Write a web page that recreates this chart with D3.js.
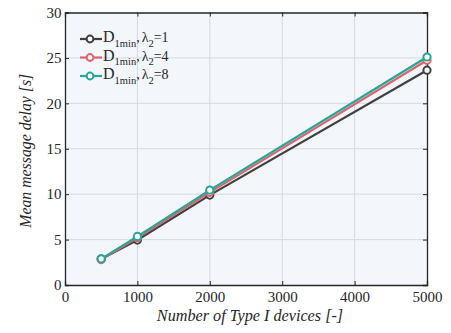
<!DOCTYPE html>
<html><head><meta charset="utf-8">
<script src="https://cdn.jsdelivr.net/npm/d3@7"></script>
<style>body{margin:0;background:#fff;} svg{display:block;}</style>
</head><body>
<svg id="c" width="451" height="333"></svg>
<script>
const xValues = [500, 1000, 2000, 5000];
const lambdas = ["1", "4", "8"];
const series1 = [2.85, 4.95, 9.9, 23.65];
const series4 = [2.8, 5.2, 10.2, 24.75];
const series8 = [2.88, 5.35, 10.45, 25.1];
const colors = ["#404040", "#e0636b", "#26a69a"];
const xTicks = [0, 1000, 2000, 3000, 4000, 5000];
const yTicks = [0, 5, 10, 15, 20, 25, 30];

const allSeries = [series1, series4, series8];
const svg = d3.select("#c");
const m = {l: 65, r: 427, t: 12.5, b: 285};
const x = d3.scaleLinear().domain([0, 5000]).range([m.l, m.r]);
const y = d3.scaleLinear().domain([0, 30]).range([m.b, m.t]);
const font = "'Liberation Serif', 'Times New Roman', serif";

svg.append("rect").attr("x", m.l).attr("y", m.t).attr("width", m.r - m.l).attr("height", m.b - m.t).attr("fill", "#f3f6fb");

// grid
svg.append("g").selectAll("line").data(xTicks.slice(1, -1)).join("line")
  .attr("x1", d => x(d)).attr("x2", d => x(d)).attr("y1", m.t).attr("y2", m.b)
  .attr("stroke", "#d6d9de").attr("stroke-width", 1);
svg.append("g").selectAll("line").data(yTicks.slice(1, -1)).join("line")
  .attr("y1", d => y(d)).attr("y2", d => y(d)).attr("x1", m.l).attr("x2", m.r)
  .attr("stroke", "#d6d9de").attr("stroke-width", 1);

// axes
const xAxis = d3.axisBottom(x).tickValues(xTicks).tickSize(-4).tickPadding(6.5).tickFormat(d3.format("d"));
const yAxis = d3.axisLeft(y).tickValues(yTicks).tickSize(-4).tickPadding(3.5);
const gx = svg.append("g").attr("transform", `translate(0,${m.b})`).call(xAxis);
const gy = svg.append("g").attr("transform", `translate(${m.l},0)`).call(yAxis);
const gx2 = svg.append("g").attr("transform", `translate(0,${m.t})`).call(d3.axisTop(x).tickValues(xTicks).tickSize(-4).tickFormat(""));
const gy2 = svg.append("g").attr("transform", `translate(${m.r},0)`).call(d3.axisRight(y).tickValues(yTicks).tickSize(-4).tickFormat(""));
[gx, gy, gx2, gy2].forEach(g => {
  g.select(".domain").attr("stroke", "#262626").attr("stroke-width", 1.3);
  g.selectAll(".tick line").attr("stroke", "#262626");
  g.selectAll("text").attr("font-family", font).attr("font-size", 15).attr("fill", "#262626");
});

// lines
const line = d3.line().x((d, i) => x(xValues[i])).y(d => y(d));
allSeries.forEach((s, k) => {
  svg.append("path").datum(s).attr("d", line).attr("fill", "none")
    .attr("stroke", colors[k]).attr("stroke-width", 2.2);
  svg.append("g").selectAll("circle").data(s).join("circle")
    .attr("cx", (d, i) => x(xValues[i])).attr("cy", d => y(d)).attr("r", 3.6)
    .attr("fill", "#fff").attr("stroke", colors[k]).attr("stroke-width", 2);
});

// legend
const lg = svg.append("g");
lambdas.forEach((lam, k) => {
  const yy = 39 + k * 18.5;
  lg.append("line").attr("x1", 80).attr("x2", 102).attr("y1", yy).attr("y2", yy)
    .attr("stroke", colors[k]).attr("stroke-width", 2.2);
  lg.append("circle").attr("cx", 90).attr("cy", yy).attr("r", 3.4)
    .attr("fill", "#fff").attr("stroke", colors[k]).attr("stroke-width", 2);
  const t = lg.append("text").attr("x", 103).attr("y", yy + 3).attr("font-family", font)
    .attr("font-size", 16).attr("fill", "#262626");
  t.append("tspan").text("D");
  t.append("tspan").attr("dy", 4.5).attr("font-size", 10.5).text("1min");
  t.append("tspan").attr("dy", -4.5).attr("font-size", 14).text(",");
  t.append("tspan").attr("dx", 2).attr("font-size", 14).text("λ");
  t.append("tspan").attr("dy", 4.5).attr("font-size", 10.5).text("2");
  t.append("tspan").attr("dy", -4.5).attr("font-size", 14).text("=" + lam);
});

// axis labels
svg.append("text").attr("x", (m.l + m.r) / 2 + 4).attr("y", 321).attr("text-anchor", "middle")
  .attr("font-family", font).attr("font-style", "italic").attr("font-size", 16.2).attr("fill", "#262626")
  .text("Number of Type I devices [-]");
svg.append("text").attr("transform", `translate(31,${(m.t + m.b) / 2 + 2}) rotate(-90)`).attr("text-anchor", "middle")
  .attr("font-family", font).attr("font-style", "italic").attr("font-size", 15.8).attr("fill", "#262626")
  .text("Mean message delay [s]");
</script>
</body></html>
